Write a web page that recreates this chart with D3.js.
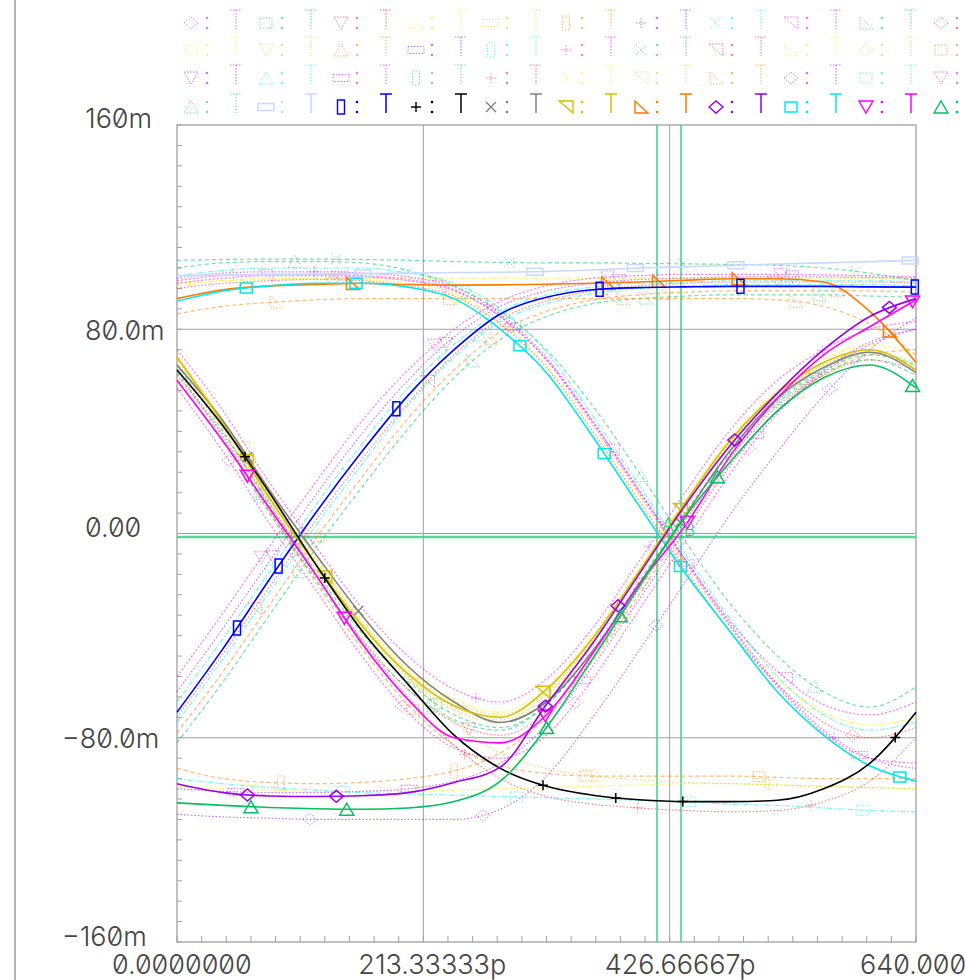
<!DOCTYPE html>
<html><head><meta charset="utf-8">
<script src="https://cdn.jsdelivr.net/npm/d3@7"></script>
<style>
html,body{margin:0;padding:0;background:#fff;}
svg{display:block;}
text{font-family:Inter,Roboto,"Liberation Sans",sans-serif;font-weight:300;font-feature-settings:"zero" 1;font-variant-numeric:slashed-zero;}
</style></head><body>
<svg id="chart" width="965" height="980"></svg>
<script>
// sample times (ps) shared by every trace
const times = [0,40,80,120,160,200,240,280,320,360,400,440,480,520,560,600,640];

// trace voltages (mV) at the sample times
const tr00 = [57,32,4,-22,-48,-70,-84,-88,-79,-57,-30,-3,24,47,63,74,80];
const tr01 = [66,40,11,-15,-39,-58,-71,-76,-67,-46,-20,7,32,51,63,68,62];
const tr02 = [64,38,9,-17,-41,-61,-74,-79,-70,-49,-22,5,30,50,62,68,64];
const tr03 = [98,99,99.5,100,100,100,100,100,100,100,100,100,100,100,100,100,99.5];
const tr04 = [70,44,15,-11,-35,-54,-66,-71,-62,-42,-16,11,36,54,66,71,66];
const tr05 = [-92,-96,-97.5,-98,-97.5,-96,-93,-86,-72,-50,-24,3,28,48,62,70,72];
const tr06 = [100,102,102.5,102.5,102,100.5,96.5,86,69,44,17,-10,-36,-59,-77,-88,-92];
const tr07 = [101,103,104,104,104,102,98,88,71,46,19,-8,-34,-56,-71,-77,-74];
const tr08 = [98,100,101,101,100.5,99,95,85,68,44,17,-10,-35,-54,-67,-71,-66];
const tr09 = [-82,-58,-32,-6,18,41,61,76,85,90,92,93,93.5,93.5,93.5,93,92.5];
const tr10 = [96,98,99,99.5,99,97,93,82,65,40,13,-14,-39,-59,-74,-80,-76];
const tr11 = [-99,-100,-100.5,-101,-101,-101,-100.5,-100,-99.5,-99,-98.5,-98,-98,-98.5,-99,-99.5,-100];
const tr12 = [67,41,12,-14,-38,-57,-69,-74,-64,-43,-17,10,35,53,65,70,65];
const tr13 = [-78,-54,-28,-2,22,45,64,79,87,91.5,93.5,94.5,95,95,95,95,94.5];
const tr14 = [-100,-101,-101.5,-101.5,-101,-100,-97,-90,-75,-52,-26,1,27,48,64,75,80];
const tr15 = [-66,-41,-15,11,35,57,74,87,93.5,96.5,98,98.5,99,99,99,99,98.5];
const tr16 = [72,48,20,-5,-29,-48,-61,-66,-57,-37,-11,16,41,60,72,80,83];
const tr17 = [107,107.3,107.5,107.5,107.3,107,106.5,106.2,106,106,105.8,105.6,105.4,105,104,102,99];
const tr18 = [-72,-47,-21,5,29,51,70,84,91,95,97,98,98.5,98.5,98.5,98.5,98];
const tr19 = [97,99,100,100,99.5,98,94,83,66,42,15,-12,-37,-57,-70,-75,-72];
const tr20 = [68,42,13,-13,-37,-56,-68,-73,-63,-42,-16,11,36,54,66,71,67];
const tr21 = [60,36,9,-19,-45,-67,-83,-91,-94,-95,-95,-95,-95,-95.5,-96,-96,-96];
const tr22 = [-62,-37,-11,15,39,60,77,89,95,98,99.5,100,100.5,100.5,100.5,100.3,100];
const tr23 = [-74,-49,-23,3,27,50,69,83,90,94,96,97,97.5,97.5,97.5,97.5,97];
const tr24 = [99,101,101.5,101.5,101,99.5,95.5,85,68,43,16,-11,-37,-60,-78,-88,-90];
const tr25 = [63,37,8,-18,-42,-61,-73,-77,-67,-46,-19,8,33,52,64,70,66];
const tr26 = [62,39,12,-16,-42,-64,-83,-96,-103,-106,-107.5,-108.5,-109,-108.5,-105,-97,-80];
const tr27 = [69,44,16,-10,-34,-53,-65,-70,-60,-40,-14,13,38,56,68,74,70];
const tr28 = [66,44,18,-9,-35,-56,-74,-86,-92,-95,-96.5,-97.5,-98,-98.5,-99,-99.5,-100];
const tr29 = [86,89,90.5,91.5,92,92,92,92,92,92,92,92,92,91.5,89,82,70];
const tr30 = [-110,-111,-111.5,-112,-112,-112,-112,-108,-95,-72,-46,-19,8,32,54,72,84.5];
const tr31 = [-96,-98,-99.5,-100.5,-101.5,-102,-102.5,-103,-103.5,-104,-104.5,-105,-106,-106.5,-107.5,-108.5,-109];
const tr32 = [-56,-31,-5,20,44,64,80,91,97,100,101,101.5,101.5,101.5,101.3,101,100.5];
const tr33 = [104,106,106.5,106.5,106,103,97,87,72,50,24,-3,-28,-48,-62,-68,-60];
const tr34 = [101,101.2,101.4,101.6,101.8,102,102.2,102.3,102.6,103.2,104,104.5,105,105.5,106,106.5,107];
const tr35 = [-70,-45,-18,8,32,54,72,86,92.5,95.5,96.3,96.6,96.8,96.8,96.8,96.6,96.5];
const tr36 = [64,42,16,-12,-38,-59,-79,-92,-99,-102.5,-104.3,-105,-105,-104.5,-100,-90,-70];
const tr37 = [66,44,17,-8,-32,-52,-66,-74,-66,-46,-20,7,33,53,65,71,63];
const tr38 = [69,43,14,-12,-36,-55,-67.5,-72,-61,-41,-15,12,37,55,67,72,64];
const tr39 = [92,95.5,97,97.5,98,97.5,97.3,97.4,97.6,98,98.5,99.2,99.8,99.8,98.5,87,67];
const tr40 = [-98,-101.5,-102.8,-103,-102.7,-101.5,-97.5,-91.5,-67,-43,-16,11,35,55,72,85,92];
const tr41 = [91,95,97,98,98,96.5,92,80,63,38,11,-15.5,-39,-62,-79,-91,-97];
const tr42 = [60,36,10,-16,-43,-65,-80,-82,-71,-47,-20,3,31,53,70,81,91.5];
const tr43 = [-105.5,-106.5,-107.3,-107.8,-108,-107.5,-105,-97,-76,-49,-21,6.5,28.5,48,61,66,57];

// marker times (ps) on the highlighted traces
const mk34 = [161,310,397,484,635];
const mk35 = [52,88,190,366,488,639];
const mk36 = [59,128,317,380,438,622];
const mk37 = [61,157,436];
const mk38 = [60,128,317,436];
const mk39 = [152,373,417,486,617];
const mk40 = [61,138,319,382,483,617];
const mk41 = [60,155,297,370,436,626];
const mk42 = [61,145,319,442,637];
const mk43 = [64,147,320,384,468,637];

// axis ticks
const yTickValues = [-160,-80,0,80,160];
const yTickLabels = ["\u2212160m","\u221280.0m","0.00","80.0m","160m"];
const xTickValues = [0,213.33333,426.66667,640];
const xTickLabels = ["0.0000000","213.33333p","426.66667p","640.00000p"];
// cursor positions
const cursorTimes = [415.7,436.5];
const cursorLevel = -1.4;

const traces = [tr00,tr01,tr02,tr03,tr04,tr05,tr06,tr07,tr08,tr09,tr10,tr11,tr12,tr13,tr14,tr15,tr16,tr17,
  tr18,tr19,tr20,tr21,tr22,tr23,tr24,tr25,tr26,tr27,tr28,tr29,tr30,tr31,tr32,tr33,tr34,tr35,tr36,tr37,tr38,tr39,tr40,tr41,tr42,tr43];
const markTimes = {34:mk34,35:mk35,36:mk36,37:mk37,38:mk38,39:mk39,40:mk40,41:mk41,42:mk42,43:mk43};

// ---- styling ----
const cyc = ['#ff00ff','#00c864','#ff2020','#f4f000','#d8c830','#ff8000','#a000ff','#00f0f0'];
const tailColors = {34:'#c8d8ff',35:'#0000ff',36:'#000000',37:'#808080',38:'#d4c000',39:'#ff7800',40:'#9a00e6',41:'#00e8e8',42:'#ff00ff',43:'#00c060'};
const markerPaths = {
  diamond:'M-7,0L0,-6L7,0L0,6Z', square:'M-6,-5H6V5H-6Z', tdown:'M-7,-6H7L0,6Z', tup:'M-7,6H7L0,-6Z',
  hrect:'M-8,-3.5H8V3.5H-8Z', vrect:'M-3.5,-7H3.5V7H-3.5Z', plus:'M-5,0H5M0,-5V5', cross:'M-5,-5L5,5M-5,5L5,-5',
  rtri1:'M-7,-6H7V6Z', rtri2:'M-6,-6V6H7Z'
};
const markerCycle = ['diamond','square','tdown','tup','hrect','vrect','plus','cross','rtri1','rtri2'];
const styles = traces.map((d,i)=>({
  color: i<34 ? cyc[i%8] : tailColors[i],
  marker: markerCycle[i%10],
  faded: i<34,
  dash: i<34 ? ['2,2','4,3','1.5,2','5,2,1.5,2'][i%4] : null
}));

const svg = d3.select('#chart');
const x = d3.scaleLinear().domain([0,640]).range([177,916]);
const y = d3.scaleLinear().domain([-160,160]).range([942,125]);

// outer frame line on the left
svg.append('line').attr('x1',15).attr('x2',15).attr('y1',0).attr('y2',980).attr('stroke','#9a9a9a').attr('stroke-width',1.5);

// plot frame, grid and ticks
const frame = svg.append('g').attr('stroke','#a0a0a0').attr('fill','none');
frame.append('rect').attr('x',x(0)).attr('y',y(160)).attr('width',x(640)-x(0)).attr('height',y(-160)-y(160)).attr('stroke-width',1.3);
[213.33333,426.66667].forEach(t=>frame.append('line').attr('x1',x(t)).attr('x2',x(t)).attr('y1',y(160)).attr('y2',y(-160)));
[-80,0,80].forEach(v=>frame.append('line').attr('x1',x(0)).attr('x2',x(640)).attr('y1',y(v)).attr('y2',y(v)));
d3.range(-160,161,8).forEach(v=>frame.append('line').attr('x1',x(0)).attr('x2',x(0)+5).attr('y1',y(v)).attr('y2',y(v)));
d3.range(0,31).forEach(k=>{const t=k*640/30;frame.append('line').attr('x1',x(t)).attr('x2',x(t)).attr('y1',y(-160)).attr('y2',y(-160)-6);});

// green cursors
const cur = svg.append('g').attr('stroke','#2ccf7e');
cursorTimes.forEach(t=>cur.append('line').attr('x1',x(t)).attr('x2',x(t)).attr('y1',y(160)).attr('y2',y(-160)).attr('stroke-width',1.4));
cur.append('line').attr('x1',x(0)).attr('x2',x(640)).attr('y1',y(cursorLevel)).attr('y2',y(cursorLevel)).attr('stroke-width',2.6).attr('stroke-opacity',0.8);

const line = d3.line().x((d,i)=>x(times[i])).y(d=>y(d)).curve(d3.curveMonotoneX);
const gTr = svg.append('g');

function pointAtX(node, px){
  const L=node.getTotalLength(); let lo=0,hi=L;
  for(let k=0;k<40;k++){const m=(lo+hi)/2; if(node.getPointAtLength(m).x<px) lo=m; else hi=m;}
  return node.getPointAtLength((lo+hi)/2);
}

function drawTrace(i){
  const s=styles[i];
  const p=gTr.append('path').datum(traces[i]).attr('d',line).attr('fill','none')
    .attr('stroke',s.color).attr('stroke-width',s.faded?1.2:1.6);
  if(s.faded){p.attr('stroke-dasharray',s.dash).attr('stroke-opacity',0.55);}
  let mts = markTimes[i];
  if(!mts){const t0=45+(i*29)%100; mts=[t0,t0+150,t0+300,t0+450].filter(t=>t<=640);}
  mts.forEach(t=>{
    const pt=pointAtX(p.node(),x(t));
    const m=gTr.append('path').attr('d',markerPaths[s.marker]).attr('transform',`translate(${pt.x},${pt.y})`)
      .attr('fill','none').attr('stroke',s.color).attr('stroke-width',s.faded?1:1.5);
    if(s.faded){m.attr('stroke-dasharray','1.5,1.5').attr('stroke-opacity',0.55);}
  });
}
d3.range(0,34).forEach(drawTrace);
[34,39,41,35,37,38,36,42,40,43].forEach(drawTrace);

// cursor tags
svg.append('text').attr('x',662).attr('y',531).attr('fill','#2ccf7e').attr('font-size',17).text('A');
svg.append('text').attr('x',684).attr('y',536).attr('fill','#2ccf7e').attr('font-size',17).text('B');

// legend
const rowY=[23,50,78,107];
const leg=svg.append('g');
styles.forEach((s,i)=>{
  const r=Math.floor(i/11), k=i%11, mx=191+75*k, cy=rowY[r];
  const g=leg.append('g').attr('stroke',s.color).attr('fill','none');
  if(s.faded) g.attr('stroke-opacity',0.55).attr('fill-opacity',0.55);
  const m=g.append('path').attr('d',markerPaths[s.marker]).attr('transform',`translate(${mx},${cy})`).attr('stroke-width',s.faded?1:1.4);
  if(s.faded) m.attr('stroke-dasharray','1.5,1.5');
  [-5,5].forEach(dy=>g.append('circle').attr('cx',mx+16).attr('cy',cy+dy).attr('r',1.3).attr('fill',s.color).attr('stroke','none'));
  const tt=g.append('path').attr('d',`M${mx+39},${cy-13}H${mx+51}M${mx+45},${cy-13}V${cy+6}`).attr('stroke-width',s.faded?1.2:1.5);
  if(s.faded) tt.attr('stroke-dasharray','1.5,1.5');
});

// axis labels
const yBase={'-160':4,'-80':10,'0':3.5,'80':11,'160':3};
yTickValues.forEach((v,i)=>{
  const lab=yTickLabels[i];
  svg.append('text').attr('x',lab.startsWith('\u2212')?62:85).attr('y',y(v)+yBase[v])
    .attr('font-size',27).attr('fill','#444').text(lab);
});
xTickValues.forEach((t,i)=>{
  svg.append('text').attr('x',i===3?x(t)-56:x(t)-65).attr('y',974).attr('font-size',27).attr('fill','#444').text(xTickLabels[i]);
});
</script>
</body></html>
